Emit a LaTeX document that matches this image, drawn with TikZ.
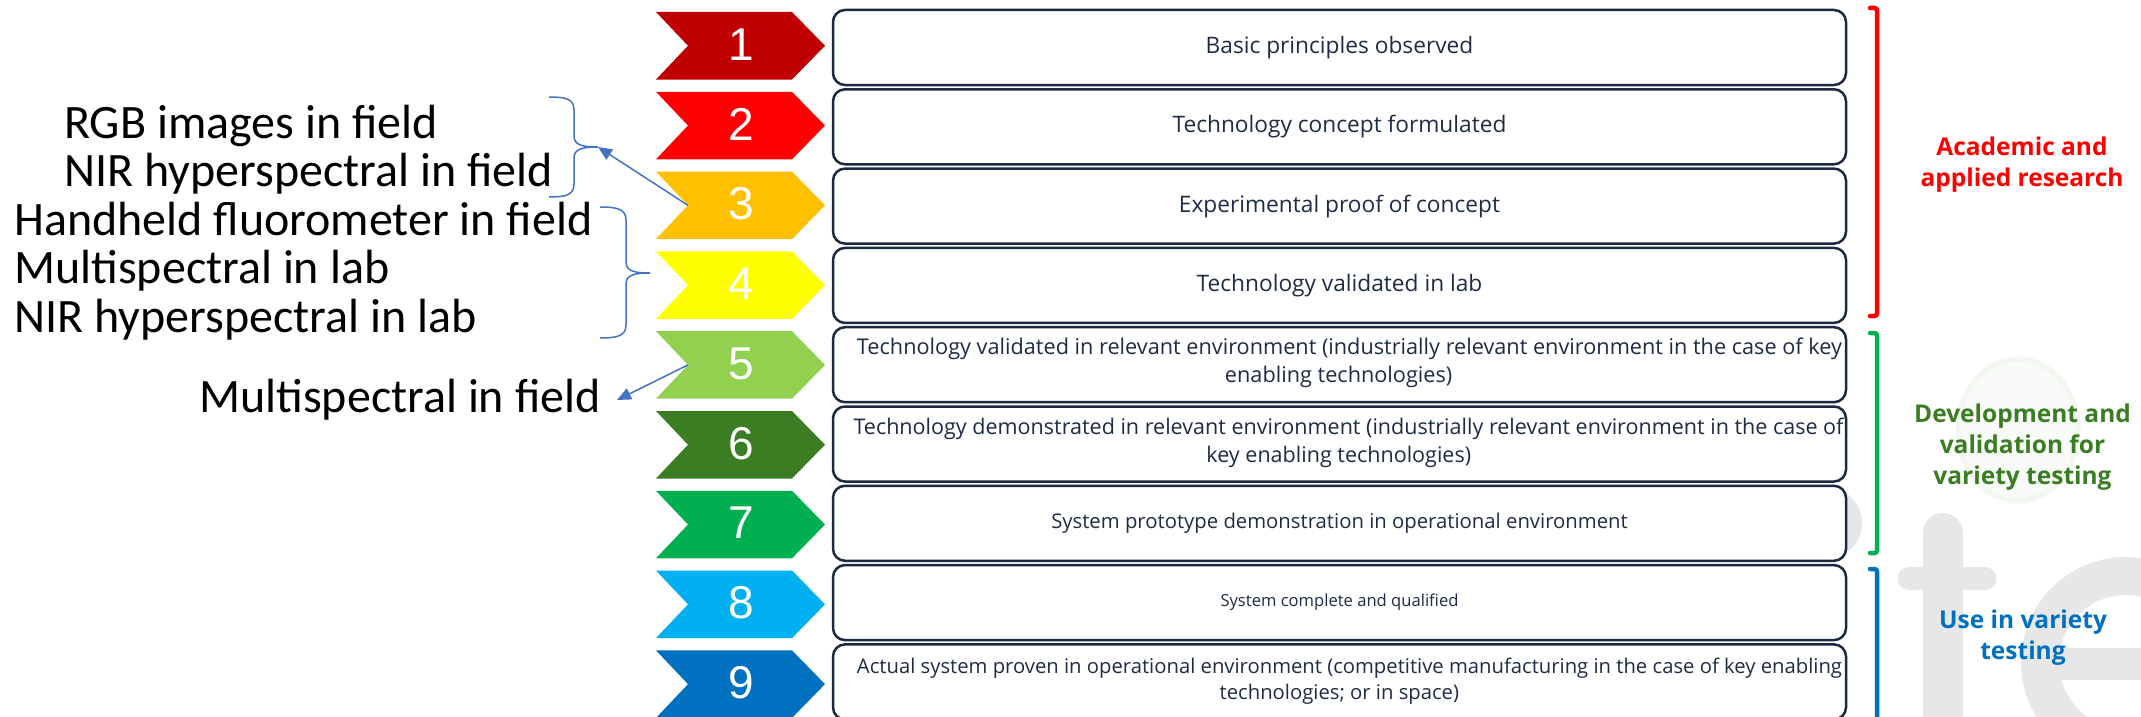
\documentclass[tikz,border=0pt]{standalone}
\usepackage{fontspec}
\usepackage{graphicx}
\setmainfont{Open Sans}
\newfontfamily\notefont{Carlito}
\newfontfamily\digitfont{Liberation Sans}
\usetikzlibrary{arrows.meta}

% readiness level colours
\definecolor{trlA}{HTML}{C00000}
\definecolor{trlB}{HTML}{FF0000}
\definecolor{trlC}{HTML}{FFC000}
\definecolor{trlD}{HTML}{FFFF00}
\definecolor{trlE}{HTML}{92D050}
\definecolor{trlF}{HTML}{3A7D22}
\definecolor{trlG}{HTML}{00B050}
\definecolor{trlH}{HTML}{00B0F0}
\definecolor{trlI}{HTML}{0070C0}
\definecolor{boxline}{HTML}{1B2A41}
\definecolor{boxtext}{HTML}{1E2C44}
\definecolor{annot}{HTML}{4472C4}
\definecolor{wmgray}{HTML}{E7E7E7}
\definecolor{wmgreenfill}{HTML}{F9FBF8}
\definecolor{wmgreenring}{HTML}{F2F7F0}
\definecolor{labred}{HTML}{FF0000}
\definecolor{labgreen}{HTML}{3B7D23}
\definecolor{labblue}{HTML}{0070C0}
\definecolor{brgreen}{HTML}{00B050}

% multi-line text whose baseline is the first line
\newcommand\txtlines[2]{\begin{tabular}[t]{@{}#1@{}}#2\end{tabular}}
% two centred lines scaled to a given width
\newcommand\fitpair[2]{\resizebox{#1}{!}{\begin{tabular}{@{}c@{}}#2\end{tabular}}}

\tikzset{
  chevdigit/.style={text=white, inner sep=0pt,
    font=\digitfont\fontsize{46}{46}\selectfont},
  trlbox/.style={draw=boxline, line width=2.5pt, rounded corners=12pt,
    fill=white, minimum width=1013pt, minimum height=75pt, inner sep=0pt,
    text=boxtext, font=\fontsize{22.7}{30}\selectfont},
  trltext/.style={inner sep=0pt, text=boxtext},
  longtext/.style={font=\fontsize{20}{26}\selectfont},
  notetext/.style={inner sep=0pt, anchor=base west, text=black,
    font=\notefont\fontsize{48}{48.5}\selectfont},
  notebrace/.style={draw=annot, line width=1.5pt},
  notearrow/.style={draw=annot, line width=1.5pt,
    -{Triangle[length=14pt,width=12pt]}},
  phasebracket/.style={line width=4.5pt, rounded corners=2.5pt, line cap=round},
  phaselabel/.style={inner sep=0pt, anchor=base,
    font=\bfseries\fontsize{24.5}{31}\selectfont},
}

\begin{document}
\begin{tikzpicture}[x=1pt,y=-1pt]
\useasboundingbox (0,0) rectangle (2141,717);
\clip (0,0) rectangle (2141,717);

% faint logo watermark in the background
\fill[wmgreenfill] (2018,430) ellipse (62 and 73);
\draw[wmgreenring, line width=5pt] (2018,430) ellipse (60 and 71);
\fill[wmgray] (1826,523) circle (36);
\draw[wmgray, line width=40pt, line cap=round] (1943,533) -- (1943,760);
\draw[wmgray, line width=23pt, line cap=round] (1909,578.5) -- (1985,578.5);
\draw[wmgray, line width=38pt] (2126,662) circle (86);
\draw[wmgray, line width=32pt] (2045,664) -- (2200,664);

% numbered chevrons
\foreach \i/\col in {1/trlA,2/trlB,3/trlC,4/trlD,5/trlE,6/trlF,7/trlG,8/trlH,9/trlI}{
  \pgfmathsetmacro\cm{45.75+(\i-1)*79.8}
  \pgfmathsetmacro\ct{\cm-33.75}
  \pgfmathsetmacro\cb{\cm+33.75}
  \fill[\col] (656,\ct) -- (792,\ct) -- (825,\cm) -- (792,\cb) -- (656,\cb) -- (688,\cm) -- cycle;
  \coordinate (notch\i) at (688,\cm);
  \node[chevdigit] (num\i) at (741,\cm-1.5) {\i};
}

% level descriptions
\node[trlbox] (box1) at (1339.5,47.5) {Basic principles observed};
\node[trlbox] (box2) at (1339.5,126.8) {Technology concept formulated};
\node[trlbox] (box3) at (1339.5,206.1) {Experimental proof of concept};
\node[trlbox] (box4) at (1339.5,285.4) {Technology validated in lab};
\node[trlbox] (box5) at (1339.5,364.7) {};
\node[trltext, longtext] (text5) at (1349.5,363.2) {\fitpair{985pt}{Technology validated in relevant environment (industrially relevant environment in the case of key\\\hspace*{-20pt}enabling technologies)}};
\node[trlbox] (box6) at (1339.5,444.0) {};
\node[trltext, longtext] (text6) at (1348.5,442.5) {\fitpair{990pt}{Technology demonstrated in relevant environment (industrially relevant environment in the case of\\\hspace*{-18pt}key enabling technologies)}};
\node[trlbox, font=\fontsize{20.3}{26}\selectfont] (box7) at (1339.5,523.3) {System prototype demonstration in operational environment};
\node[trlbox] (box8) at (1339.5,602.6) {};
\node[trltext] (text8) at (box8) {\resizebox{238pt}{!}{System complete and qualified}};
\node[trlbox] (box9) at (1339.5,681.9) {};
\node[trltext, longtext] (text9) at (1349.5,681.4) {\fitpair{985pt}{Actual system proven in operational environment (competitive manufacturing in the case of key enabling\\\hspace*{-20pt}technologies; or in space)}};

% phase brackets and labels
\draw[phasebracket, labred] (1870,8) -- (1877,8) -- (1877,316) -- (1870,316);
\draw[phasebracket, brgreen] (1870,333) -- (1877,333) -- (1877,553) -- (1870,553);
\draw[phasebracket, labblue] (1870,569) -- (1877,569) -- (1877,740);
\node[phaselabel, text=labred] (phase1) at (2022,155) {\txtlines{c}{Academic and\\applied research}};
\node[phaselabel, text=labgreen] (phase2) at (2022.5,422) {\txtlines{c}{Development and\\validation for\\variety testing}};
\node[phaselabel, text=labblue] (phase3) at (2023,628) {\txtlines{c}{Use in variety\\testing}};

% sensing methods placed on the scale
\node[notetext] (fieldnote) at (64,138) {\txtlines{l}{RGB images in field\\NIR hyperspectral in field}};
\node[notetext] (labnote) at (14,235) {\txtlines{l}{Handheld fluorometer in field\\Multispectral in lab\\NIR hyperspectral in lab}};
\node[notetext] (msfield) at (199,412) {Multispectral in field};

% braces grouping the methods
\draw[notebrace] (549,97) .. controls (566,97) and (574,99) .. (574,110) -- (574,136)
  .. controls (574,145) and (582,147) .. (598,147)
  .. controls (582,147) and (574,149) .. (574,158) -- (574,184)
  .. controls (574,195) and (566,197) .. (549,197);
\coordinate (bracetipA) at (598,147);
\draw[notebrace] (600,207) .. controls (617,207) and (626,209) .. (626,220) -- (626,262)
  .. controls (626,271) and (634,273) .. (650,273)
  .. controls (634,273) and (626,275) .. (626,284) -- (626,325)
  .. controls (626,336) and (617,338) .. (600,338);
\coordinate (bracetipB) at (650,273);

% pointers from the levels to the methods
\coordinate (msfieldtip) at (617,400);
\draw[notearrow] (notch3) -- (bracetipA);
\draw[notearrow] (notch5) -- (msfieldtip);
\end{tikzpicture}
\end{document}
